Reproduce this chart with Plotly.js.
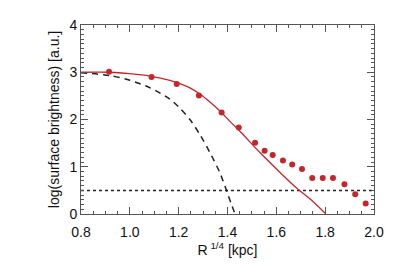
<!DOCTYPE html>
<html><head><meta charset="utf-8">
<script src="https://cdn.plot.ly/plotly-3.0.1.min.js"></script>
<style>html,body{margin:0;padding:0;background:#fff}#c{width:399px;height:266px}</style>
</head><body><div id="c"></div>
<script>
// observed data points
const dataX = [0.915, 1.089, 1.192, 1.283, 1.376, 1.446, 1.513, 1.552, 1.585, 1.627, 1.665, 1.705, 1.747, 1.790, 1.832, 1.879, 1.923, 1.966];
const dataY = [3.01, 2.90, 2.75, 2.51, 2.15, 1.83, 1.51, 1.34, 1.25, 1.13, 1.05, 0.95, 0.76, 0.76, 0.76, 0.63, 0.42, 0.22];
// total model fit (red solid)
const fitX = [0.8, 0.92, 1.0, 1.083, 1.164, 1.205, 1.246, 1.287, 1.328, 1.369, 1.41, 1.451, 1.533, 1.615, 1.683, 1.751, 1.803];
const fitY = [3.0, 3.0, 2.97, 2.92, 2.83, 2.76, 2.67, 2.54, 2.37, 2.18, 1.96, 1.75, 1.30, 0.88, 0.55, 0.26, 0.0];
// inner component (black dashed)
const compX = [0.8, 0.919, 1.0, 1.083, 1.164, 1.205, 1.246, 1.287, 1.328, 1.369, 1.397, 1.415, 1.431];
const compY = [2.99, 2.93, 2.83, 2.67, 2.43, 2.24, 2.0, 1.68, 1.30, 0.87, 0.48, 0.22, 0.0];
// background level (dotted)
const bgX = [0.8, 2.0];
const bgY = [0.5, 0.5];
const xTicks = [0.8, 1.0, 1.2, 1.4, 1.6, 1.8, 2.0];
const xTickText = ['0.8', '1.0', '1.2', '1.4', '1.6', '1.8', '2.0'];
const yTicks = [0, 1, 2, 3, 4];

const red = '#c3262b';
const traces = [
  {x: bgX, y: bgY, mode: 'lines', line: {color: '#222', width: 1.5, dash: 'dot'}, hoverinfo: 'skip'},
  {x: compX, y: compY, mode: 'lines', line: {color: '#222', width: 1.5, dash: '6px,5px', shape: 'spline', smoothing: 0.8}},
  {x: fitX, y: fitY, mode: 'lines', line: {color: red, width: 1.3, shape: 'spline', smoothing: 0.8}},
  {x: dataX, y: dataY, mode: 'markers', marker: {color: red, size: 6}}
];
const font = {family: 'Liberation Sans, Arial, sans-serif', size: 14, color: '#111'};
const axisCommon = {
  showline: true, mirror: 'allticks', linecolor: '#555', linewidth: 1,
  ticks: 'inside', ticklen: 7, tickcolor: '#555', showgrid: false, zeroline: false,
  tickfont: font
};
const layout = {
  width: 399, height: 266,
  margin: {l: 81, r: 25, t: 25, b: 52},
  paper_bgcolor: '#fff', plot_bgcolor: '#fff',
  showlegend: false,
  xaxis: Object.assign({}, axisCommon, {
    range: [0.8, 2.0], tickvals: xTicks, ticktext: xTickText, ticklabelstandoff: 5,
    minor: {dtick: 0.05, ticks: 'inside', ticklen: 3, tickcolor: '#555'},
    title: {text: 'R<sup> 1/4</sup> [kpc]', standoff: 2, font: font}
  }),
  yaxis: Object.assign({}, axisCommon, {
    range: [0, 4], tickvals: yTicks,
    minor: {dtick: 0.1, ticks: 'inside', ticklen: 3, tickcolor: '#555'},
    title: {text: 'log(surface brightness) [a.u.]', standoff: 6, font: font}
  })
};
Plotly.newPlot('c', traces, layout, {staticPlot: true, displayModeBar: false});
</script></body></html>
